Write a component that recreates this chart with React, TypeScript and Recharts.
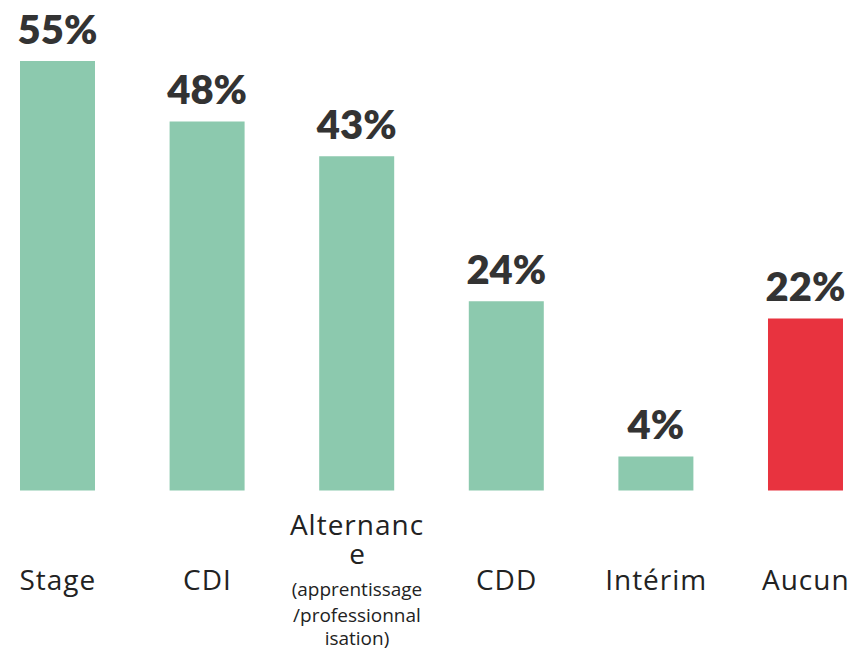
import React from 'react';
import { BarChart, Bar, XAxis, YAxis, Cell, LabelList } from 'recharts';

const categories = ['Stage', 'CDI', 'Alternance', 'CDD', 'Intérim', 'Aucun'];
const values = [55.4, 47.6, 43.1, 24.4, 4.4, 22.2];
const valueLabels = ['55%', '48%', '43%', '24%', '4%', '22%'];
const colors = ['#8cc9ae', '#8cc9ae', '#8cc9ae', '#8cc9ae', '#8cc9ae', '#e8333f'];

const data = categories.map((name, i) => ({ name, value: values[i], label: valueLabels[i] }));

const CategoryTick = (props: any) => {
  const { x, y, payload } = props;
  const base = { fill: '#222', fontFamily: 'Open Sans', textAnchor: 'middle' as const };
  if (payload.value === 'Alternance') {
    return (
      <g>
        <text x={x} y={y + 44.5} fontSize={28} letterSpacing={1} {...base}>Alternanc</text>
        <text x={x} y={y + 73.5} fontSize={28} {...base}>e</text>
        <text x={x} y={y + 106} fontSize={19} {...base}>(apprentissage</text>
        <text x={x} y={y + 132} fontSize={19} {...base}>/professionnal</text>
        <text x={x} y={y + 155} fontSize={19} {...base}>isation)</text>
      </g>
    );
  }
  return (
    <text x={x} y={y + 99.5} fontSize={28} letterSpacing={1} {...base}>
      {payload.value}
    </text>
  );
};

const App: React.FC = () => {
  return (
    <div style={{ position: 'absolute', left: 0, top: 0, width: 853, height: 652, overflow: 'hidden', background: '#fff' }}>
      <div style={{ position: 'absolute', left: -17.3, top: 0 }}>
        <BarChart width={897.6} height={652} data={data} margin={{ top: 61, right: 0, bottom: 0, left: 0 }} barSize={75}>
          <XAxis
            dataKey="name"
            axisLine={false}
            tickLine={false}
            tickSize={0}
            tickMargin={0}
            height={161.5}
            interval={0}
            tick={<CategoryTick />}
          />
          <YAxis hide domain={[0, 55.4]} />
          <Bar dataKey="value" isAnimationActive={false}>
            {data.map((d, i) => (
              <Cell key={d.name} fill={colors[i]} />
            ))}
            <LabelList
              dataKey="label"
              position="top"
              offset={17}
              fill="#333"
              fontSize={40}
              fontWeight={800}
              fontFamily="Lato"
            />
          </Bar>
        </BarChart>
      </div>
    </div>
  );
};

export default App;
